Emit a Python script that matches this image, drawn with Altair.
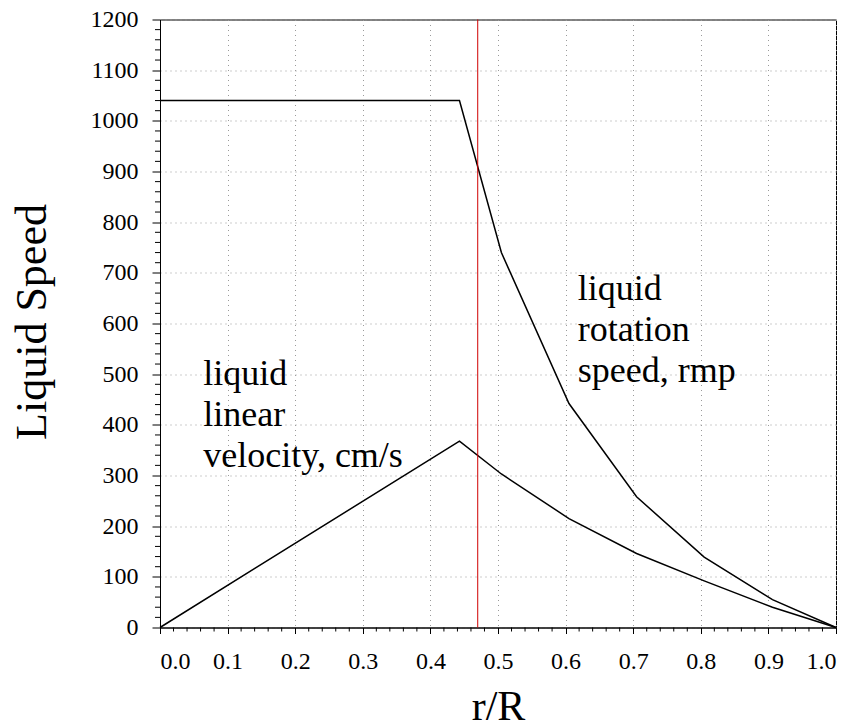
import altair as alt
import pandas as pd

# ---- data ----
r_points = [0.0, 0.443, 0.505, 0.605, 0.705, 0.805, 0.906, 1.0]
rotation_rpm = [1040, 1040, 740, 442, 258, 139, 55, 0]
linear_cms = [0, 368, 303, 215, 146, 92, 40, 0]

x_ticks = [0.0, 0.1, 0.2, 0.3, 0.4, 0.5, 0.6, 0.7, 0.8, 0.9, 1.0]
y_ticks = [0, 100, 200, 300, 400, 500, 600, 700, 800, 900, 1000, 1100, 1200]
x_minor = [round(i * 0.02, 2) for i in range(51) if i % 5 != 0]
y_minor = [i * 20 for i in range(61) if i % 5 != 0]

marker_r = [0.47]

label_text = ["liquid\nlinear\nvelocity, cm/s", "liquid\nrotation\nspeed, rmp"]
label_x = [0.064, 0.618]
label_y = [478, 646]

FONT = "Liberation Serif"

rows = []
for r, v in zip(r_points, rotation_rpm):
    rows.append({"r": r, "speed": v, "series": "rotation"})
for r, v in zip(r_points, linear_cms):
    rows.append({"r": r, "speed": v, "series": "linear"})
df = pd.DataFrame(rows)

xs = alt.Scale(domain=[0, 1], nice=False)
ys = alt.Scale(domain=[0, 1200], nice=False)

x_axis = alt.Axis(
    values=x_ticks, format=".1f", title="r/R",
    labelPadding=16, tickSize=6,
    titleFontSize=42,
    titleX=338, titleY=92, titleBaseline="alphabetic", titleAlign="center",
)
y_axis = alt.Axis(
    values=y_ticks, format="d", title="Liquid Speed",
    labelPadding=14, tickSize=8,
    titleFontSize=44,
    titleX=-115, titleY=302, titleAngle=270, titleBaseline="alphabetic", titleAlign="center",
)

X = lambda f: alt.X(f, scale=xs, axis=x_axis)
Y = lambda f: alt.Y(f, scale=ys, axis=y_axis)

lines = alt.Chart(df).mark_line(color="black", strokeWidth=1.5).encode(
    x=X("r:Q"), y=Y("speed:Q"), detail="series:N",
)

marker = alt.Chart(pd.DataFrame({"r": marker_r})).mark_rule(
    color="#d00000", strokeWidth=1
).encode(x=X("r:Q"))

xminor = alt.Chart(pd.DataFrame({"r": x_minor})).mark_rule(
    color="black", strokeWidth=1
).encode(x=X("r:Q"), y=alt.value(608), y2=alt.value(612))

yminor = alt.Chart(pd.DataFrame({"speed": y_minor})).mark_rule(
    color="black", strokeWidth=1
).encode(y=Y("speed:Q"), x=alt.value(-5), x2=alt.value(0))

labels = alt.Chart(
    pd.DataFrame({"t": label_text, "r": label_x, "speed": label_y})
).mark_text(
    font=FONT, fontSize=36, align="left", baseline="alphabetic",
    lineBreak="\n", lineHeight=41, color="black",
).encode(x=X("r:Q"), y=Y("speed:Q"), text="t:N")

chart = alt.layer(lines, marker, xminor, yminor, labels).properties(
    width=676, height=608,
    autosize=alt.AutoSizeParams(type="none"),
    padding={"left": 160, "top": 19.5, "right": 21, "bottom": 100.5},
    background="white",
).configure_view(
    stroke="black", strokeWidth=1
).configure_axis(
    labelFont=FONT, labelFontSize=24, labelColor="black",
    titleFont=FONT, titleFontWeight="normal", titleColor="black",
    tickColor="black", domainColor="black",
    grid=True, gridDash=[1, 4], gridColor="#9a9a9a",
).configure_text(font=FONT)

chart.save("out.html", embed_options={"renderer": "svg", "actions": False})
